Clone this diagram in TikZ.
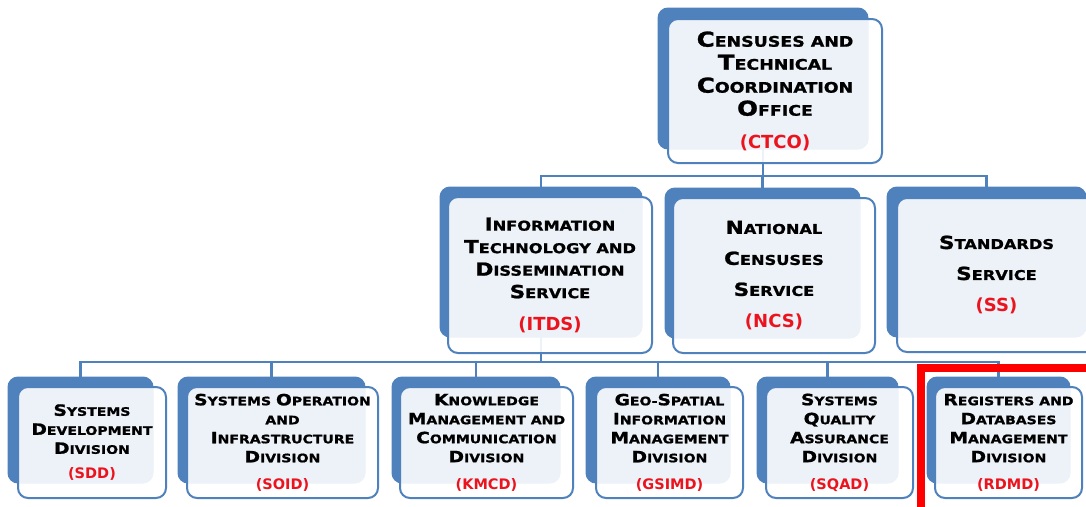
\documentclass[tikz,border=0pt]{standalone}
\usepackage{fontspec}
\newfontfamily\cpg[FakeStretch=1.2, FakeBold=1.2]{DejaVu Sans Bold}
\newfontfamily\redf{DejaVu Sans Bold}
\definecolor{boxblue}{RGB}{79,129,189}
\definecolor{acr}{RGB}{235,20,30}
\definecolor{frame}{RGB}{255,0,0}
\newcommand\bigsz{20}
\newcommand\redsz{18}
\newcommand\B[1]{{\fontsize{\bigsz}{10}\selectfont #1}}
\newcommand\R[1]{{\redf\fontsize{\redsz}{10}\selectfont\color{acr}#1}}
\pgfdeclarelayer{bg}
\pgfsetlayers{bg,main}
\tikzset{
  back/.style={rectangle, rounded corners=10pt, fill=boxblue, draw=boxblue, line width=1pt,
    inner sep=0pt, outer sep=0pt, anchor=north west},
  front/.style={rectangle, rounded corners=10pt, draw=boxblue, line width=2pt, fill=white,
    fill opacity=0.9, text opacity=1, inner sep=0pt, outer sep=0pt, anchor=north west,
    align=center, text=black},
  conn/.style={draw=boxblue, line width=2.4pt},
  tone/.style={font={\cpg\fontsize{14.5}{23}\selectfont\renewcommand\bigsz{20.5}\renewcommand\redsz{18}}},
  ttwo/.style={font={\cpg\fontsize{13.5}{22.5}\selectfont\renewcommand\bigsz{18}\renewcommand\redsz{18}}},
  ttwow/.style={font={\cpg\fontsize{13.5}{31}\selectfont\renewcommand\bigsz{18}\renewcommand\redsz{18}}},
  tthree/.style={font={\cpg\fontsize{11.7}{19}\selectfont\renewcommand\bigsz{15.5}\renewcommand\redsz{14.5}}},
}
\begin{document}
\begin{tikzpicture}[x=1pt,y=-1pt]
\useasboundingbox (0,0) rectangle (1086,506);
\clip (0,0) rectangle (1086,506);
% level 1
\node[back, minimum width=210pt, minimum height=141pt] (ctcoB) at (658,8) {};
\node[front, tone, minimum width=214pt, minimum height=144pt] (ctco) at (668,19)
  {\B{C}ENSUSES AND\\\B{T}ECHNICAL\\\B{C}OORDINATION\\\B{O}FFICE\\[9.5pt]\R{(CTCO)}};
% level 2
\node[back, minimum width=202pt, minimum height=150pt] (itdsB) at (440,187) {};
\node[front, ttwo, minimum width=204pt, minimum height=156pt] (itds) at (448,197)
  {\B{I}NFORMATION\\\B{T}ECHNOLOGY AND\\\B{D}ISSEMINATION\\\B{S}ERVICE\\[9.5pt]\R{(ITDS)}};
\node[back, minimum width=195pt, minimum height=150pt] (ncsB) at (665,188) {};
\node[front, ttwow, minimum width=202pt, minimum height=155pt] (ncs) at (673,198)
  {\B{N}ATIONAL\\\B{C}ENSUSES\\\B{S}ERVICE\\[1pt]\R{(NCS)}};
\node[back, minimum width=199pt, minimum height=150pt] (ssB) at (887,187) {};
\node[front, ttwow, minimum width=199pt, minimum height=154pt] (ss) at (897,198)
  {\B{S}TANDARDS\\\B{S}ERVICE\\[1pt]\R{(SS)}};
% level 3
\node[back, minimum width=145pt, minimum height=106pt] (sddB) at (8,377) {};
\node[front, tthree, minimum width=148pt, minimum height=111pt] (sdd) at (18,387)
  {\B{S}YSTEMS\\\B{D}EVELOPMENT\\\B{D}IVISION\\[6pt]\R{(SDD)}};
\node[back, minimum width=187pt, minimum height=106pt] (soidB) at (178,377) {};
\node[front, tthree, minimum width=191pt, minimum height=111pt] (soid) at (187,387)
  {\B{S}YSTEMS \B{O}PERATION\\AND\\\B{I}NFRASTRUCTURE\\\B{D}IVISION\\[8pt]\R{(SOID)}};
\node[back, minimum width=168pt, minimum height=106pt] (kmcdB) at (392,377) {};
\node[front, tthree, minimum width=173pt, minimum height=111pt] (kmcd) at (400,387)
  {\B{K}NOWLEDGE\\\B{M}ANAGEMENT AND\\\B{C}OMMUNICATION\\\B{D}IVISION\\[8pt]\R{(KMCD)}};
\node[back, minimum width=144pt, minimum height=106pt] (gsimdB) at (586,377) {};
\node[front, tthree, minimum width=147pt, minimum height=111pt] (gsimd) at (596,387)
  {\B{G}EO-\B{S}PATIAL\\\B{I}NFORMATION\\\B{M}ANAGEMENT\\\B{D}IVISION\\[8pt]\R{(GSIMD)}};
\node[back, minimum width=141pt, minimum height=106pt] (sqadB) at (757,377) {};
\node[front, tthree, minimum width=147pt, minimum height=111pt] (sqad) at (766,387)
  {\B{S}YSTEMS\\\B{Q}UALITY\\\B{A}SSURANCE\\\B{D}IVISION\\[8pt]\R{(SQAD)}};
\node[back, minimum width=143pt, minimum height=106pt] (rdmdB) at (927,377) {};
\node[front, tthree, minimum width=147pt, minimum height=111pt] (rdmd) at (935,387)
  {\B{R}EGISTERS AND\\\B{D}ATABASES\\\B{M}ANAGEMENT\\\B{D}IVISION\\[8pt]\R{(RDMD)}};
% connectors
\coordinate (busA) at (0,176);
\coordinate (busB) at (0,362);
\begin{pgfonlayer}{bg}
\draw[conn] (ctcoB.south) -- (ctcoB.south |- busA);
\draw[conn] (itdsB.north) -- (itdsB.north |- busA) -- (ssB.north |- busA) -- (ssB.north);
\draw[conn] (ncsB.north) -- (ncsB.north |- busA);
\draw[conn] (itdsB.south) -- (itdsB.south |- busB);
\draw[conn] (sddB.north) -- (sddB.north |- busB) -- (rdmdB.north |- busB) -- (rdmdB.north);
\draw[conn] (soidB.north) -- (soidB.north |- busB);
\draw[conn] (kmcdB.north) -- (kmcdB.north |- busB);
\draw[conn] (gsimdB.north) -- (gsimdB.north |- busB);
\draw[conn] (sqadB.north) -- (sqadB.north |- busB);
\end{pgfonlayer}
% highlight frame
\draw[frame, line width=8pt] (921,368) rectangle (1100,520);
\end{tikzpicture}
\end{document}
